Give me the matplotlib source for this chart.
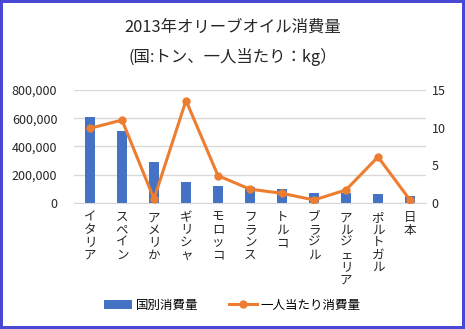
import matplotlib.pyplot as plt
from matplotlib.patches import Rectangle
from matplotlib.ticker import FuncFormatter

plt.rcParams['font.family'] = ['Noto Sans CJK JP', 'DejaVu Sans']

# 2013年 オリーブオイル消費量
countries = ["イタリア", "スペイン", "アメリか", "ギリシャ", "モロッコ", "フランス",
             "トルコ", "ブラジル", "アルジェリア", "ポルトガル", "日本"]
total_t = [610000, 511000, 291000, 147000, 118000, 109000, 99000, 69000, 71000, 62000, 47000]
per_person_kg = [9.9, 11.0, 0.5, 13.6, 3.6, 1.8, 1.25, 0.36, 1.7, 6.1, 0.36]

bar_col = "#4472C4"
line_col = "#ED7D31"
txt_col = "#262626"

fig = plt.figure(figsize=(4.65, 3.29), dpi=100)
ax = fig.add_axes([74 / 465, 126.3 / 329, 352 / 465, 112.7 / 329])
ax2 = ax.twinx()

x = list(range(len(countries)))
ax.bar(x, total_t, width=0.31, color=bar_col, label="国別消費量", zorder=2)
ax2.plot(x, per_person_kg, color=line_col, lw=2.2, marker="o", ms=5,
         label="一人当たり消費量", zorder=3)

ax.set_xlim(-0.5, len(countries) - 0.5)
ax.set_ylim(0, 800000)
ax.set_yticks([0, 200000, 400000, 600000, 800000])
ax.yaxis.set_major_formatter(FuncFormatter(lambda v, p: f"{int(v):,}"))
ax2.set_ylim(0, 15)
ax2.set_yticks([0, 5, 10, 15])

ax.grid(axis="y", color="#D9D9D9", lw=1, zorder=0)
ax.set_axisbelow(True)
for a in (ax, ax2):
    for s in a.spines.values():
        s.set_visible(False)
ax.spines["bottom"].set_visible(True)
ax.spines["bottom"].set_color("#D9D9D9")

ax.set_xticks(x)
ax.set_xticklabels(["\n".join(c) for c in countries], linespacing=0.95,
                   va="top", fontsize=9, color=txt_col)
ax.tick_params(axis="x", length=0, pad=6)
ax.tick_params(axis="y", length=0, pad=12, labelsize=9, labelcolor=txt_col)
ax2.tick_params(axis="y", length=0, pad=4, labelsize=9, labelcolor=txt_col)

fig.text(0.5, 1 - 27 / 329, "2013年オリーブオイル消費量", ha="center", va="center",
         fontsize=11.8, color=txt_col)
fig.text(0.5, 1 - 57 / 329, "(国:トン、一人当たり：kg）", ha="center", va="center",
         fontsize=11.8, color=txt_col)

h1, l1 = ax.get_legend_handles_labels()
h2, l2 = ax2.get_legend_handles_labels()
fig.legend(h1 + h2, l1 + l2, loc="center", bbox_to_anchor=(0.5, 1 - 305 / 329),
           ncol=2, frameon=False, fontsize=9, handlelength=2.2, columnspacing=2.5,
           handletextpad=0.3)

fig.patches.append(Rectangle((0, 0), 1, 1, transform=fig.transFigure, fill=False,
                             edgecolor="#4848D4", lw=4.3))

fig.savefig("out.png", dpi=100)
